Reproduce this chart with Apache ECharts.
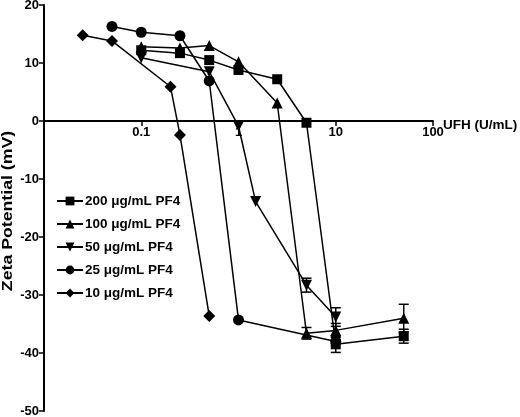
<!DOCTYPE html>
<html>
<head>
<meta charset="utf-8">
<script src="https://cdn.jsdelivr.net/npm/echarts@6/dist/echarts.min.js"></script>
<style>
  html, body { margin: 0; padding: 0; background: #fff; }
  #main { width: 520px; height: 417px; }
</style>
</head>
<body>
<div id="main"></div>
<script>
const chart = echarts.init(document.getElementById("main"));

// UFH concentrations (U/mL) and zeta potential (mV) per PF4 level
const names = ["200 μg/mL PF4", "100 μg/mL PF4", "50 μg/mL PF4", "25 μg/mL PF4", "10 μg/mL PF4"];

const x200 = [0.1, 0.25, 0.5, 1, 2.5, 5, 10, 50];
const y200 = [12.2, 11.7, 10.5, 8.8, 7.2, -0.3, -38.5, -37.1];
const e200 = [0, 0, 0, 0, 0, 0, 1.4, 1.2];

const x100 = [0.1, 0.25, 0.5, 1, 2.5, 5, 10, 50];
const y100 = [12.8, 12.6, 13.0, 10.2, 3.1, -36.6, -36.1, -34.0];
const e100 = [0, 0, 0, 0, 0, 1.0, 1.2, 2.4];

const x50 = [0.1, 0.5, 1, 1.5, 5, 10];
const y50 = [10.9, 8.5, -0.9, -13.9, -28.3, -33.8];
const e50 = [0, 0, 0, 0, 1.2, 1.6];

const x25 = [0.05, 0.1, 0.25, 0.5, 1, 10];
const y25 = [16.3, 15.3, 14.7, 6.9, -34.3, -38.0];

const x10 = [0.025, 0.05, 0.2, 0.25, 0.5];
const y10 = [14.8, 13.8, 5.9, -2.4, -33.6];

const yTicks = [20, 10, 0, -10, -20, -30, -40, -50];

function pairs(xs, ys) {
    return xs.map((x, i) => [x, ys[i]]);
}

function errData(xs, ys, es) {
    let out = [];
    xs.forEach((x, i) => {
        if (es[i] > 0) out.push([x, ys[i], es[i]]);
    });
    return out;
}

function lineSeries(name, data, symbol, size, rotate, z) {
    return {
        name: name,
        type: "line",
        data: data,
        symbol: symbol,
        symbolSize: size,
        symbolRotate: rotate || 0,
        showAllSymbol: true,
        itemStyle: { color: "#000" },
        lineStyle: { color: "#000", width: 1.5 },
        z: z
    };
}

// error bars drawn as a custom series
function errSeries(data) {
    return {
        type: "custom",
        data: data,
        z: 2,
        renderItem: function (params, api) {
            const x = api.value(0), y = api.value(1), e = api.value(2);
            const hi = api.coord([x, y + e]);
            const lo = api.coord([x, y - e]);
            const w = 5;
            const st = { stroke: "#000", lineWidth: 1.5 };
            return {
                type: "group",
                children: [
                    { type: "line", shape: { x1: hi[0], y1: hi[1], x2: lo[0], y2: lo[1] }, style: st },
                    { type: "line", shape: { x1: hi[0] - w, y1: hi[1], x2: hi[0] + w, y2: hi[1] }, style: st },
                    { type: "line", shape: { x1: lo[0] - w, y1: lo[1], x2: lo[0] + w, y2: lo[1] }, style: st }
                ]
            };
        }
    };
}

const fontFam = "Liberation Sans, Arial, sans-serif";
const bold = { color: "#000", fontWeight: "bold", fontFamily: fontFam };

// grid: top 5, bottom 6 -> plot height 406; y=0 lies 290px above the bottom edge
const gridTop = 5, gridBottom = 6, plotH = 417 - gridTop - gridBottom;
const zeroOffset = plotH * 50 / 70;

let option = {
    animation: false,
    backgroundColor: "#fff",
    grid: {
        left: 44, right: 87, top: gridTop, bottom: gridBottom,
        containLabel: false,
        outerBoundsMode: "none"
    },
    // axis titles as free text so they sit where the original has them
    graphic: [{
        type: "text",
        x: 8,
        y: 211,
        rotation: Math.PI / 2,
        scaleX: 1.18,
        style: {
            text: "Zeta Potential (mV)",
            fill: "#000",
            font: "bold 15px " + fontFam,
            align: "center",
            verticalAlign: "middle"
        }
    }, {
        type: "text",
        x: 443,
        y: 125,
        style: {
            text: "UFH (U/mL)",
            fill: "#000",
            font: "bold 13.5px " + fontFam,
            align: "left",
            verticalAlign: "middle"
        }
    }],
    legend: {
        data: names,
        orient: "vertical",
        left: 51,
        top: 189,
        itemWidth: 26,
        itemHeight: 11,
        itemGap: 9,
        textStyle: Object.assign({ fontSize: 13.5, padding: [0, 0, 0, -3] }, bold)
    },
    xAxis: {
        type: "log",
        logBase: 10,
        min: 0.01,
        max: 100,
        position: "bottom",
        offset: -zeroOffset,
        axisLine: { onZero: false, lineStyle: { color: "#000", width: 2 } },
        axisTick: { show: true, length: 5, lineStyle: { color: "#000", width: 1.5 } },
        minorTick: { show: false },
        splitLine: { show: false },
        axisLabel: Object.assign({
            fontSize: 13,
            margin: 5,
            showMinLabel: false,
            formatter: v => String(v)
        }, bold)
    },
    yAxis: {
        type: "value",
        min: -50,
        max: 20,
        interval: 10,
        axisLine: { show: true, onZero: false, lineStyle: { color: "#000", width: 2 } },
        axisTick: { show: true, length: 5, lineStyle: { color: "#000", width: 1.5 } },
        splitLine: { show: false },
        axisLabel: Object.assign({
            fontSize: 13,
            margin: 5,
            formatter: v => (yTicks.includes(v) ? String(v) : "")
        }, bold)
    },
    series: [
        lineSeries(names[0], pairs(x200, y200), "rect", 10, 0, 7),
        lineSeries(names[1], pairs(x100, y100), "triangle", 11, 0, 6),
        lineSeries(names[2], pairs(x50, y50), "triangle", 11, 180, 5),
        lineSeries(names[3], pairs(x25, y25), "circle", 11, 0, 4),
        lineSeries(names[4], pairs(x10, y10), "diamond", 12, 0, 3),
        errSeries(errData(x200, y200, e200)),
        errSeries(errData(x100, y100, e100)),
        errSeries(errData(x50, y50, e50))
    ]
};

chart.setOption(option);

window.onresize = function () {
    chart.resize();
};
</script>
</body>
</html>
